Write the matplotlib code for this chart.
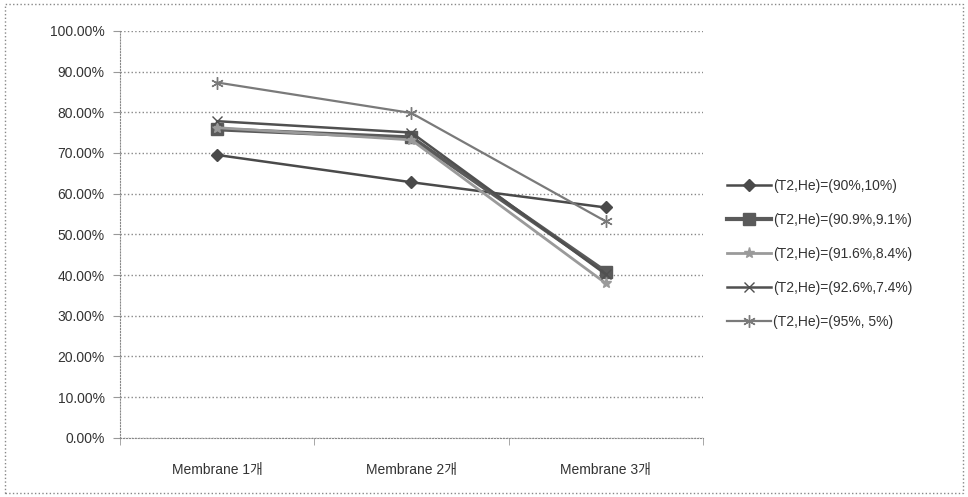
import matplotlib.pyplot as plt
import numpy as np
from matplotlib.ticker import PercentFormatter

plt.rcParams['font.family'] = ['Liberation Sans', 'Noto Sans CJK KR', 'DejaVu Sans']

categories = ["Membrane 1개", "Membrane 2개", "Membrane 3개"]
series_names = ["(T2,He)=(90%,10%)", "(T2,He)=(90.9%,9.1%)", "(T2,He)=(91.6%,8.4%)",
                "(T2,He)=(92.6%,7.4%)", "(T2,He)=(95%, 5%)"]
s_90 = [69.5, 62.8, 56.6]
s_909 = [75.8, 73.8, 40.8]
s_916 = [76.2, 73.2, 38.0]
s_926 = [77.8, 75.0, 40.2]
s_95 = [87.3, 79.8, 53.2]

values = [s_90, s_909, s_916, s_926, s_95]
colors = ["#4a4a4a", "#5a5a5a", "#9a9a9a", "#505050", "#7a7a7a"]
markers = ["D", "s", "*", "x", (6, 2, 0)]
msizes = [6, 8, 8, 7, 9]
lwidths = [1.8, 3.0, 2.0, 1.8, 1.6]

fig = plt.figure(figsize=(9.68, 4.97), dpi=100)
# dotted frame round the whole chart
fig.patches.append(plt.Rectangle((0.005, 0.008), 0.99, 0.984, transform=fig.transFigure,
                                 fill=False, edgecolor="#888888", linestyle=":", linewidth=1.0))
ax = fig.add_axes([0.124, 0.119, 0.602, 0.819])

x = np.arange(len(categories))
for vals, name, c, m, ms, lw in zip(values, series_names, colors, markers, msizes, lwidths):
    ax.plot(x, vals, color=c, marker=m, markersize=ms, linewidth=lw, label=name,
            markeredgecolor=c, markerfacecolor=c, zorder=3)

ax.set_xlim(-0.5, 2.5)
ax.set_ylim(0, 100)
ax.set_yticks(np.arange(0, 101, 10))
ax.yaxis.set_major_formatter(PercentFormatter(decimals=2))
ax.set_xticks(x)
ax.set_xticklabels(categories)
ax.set_xticks([-0.5, 0.5, 1.5, 2.5], minor=True)
ax.tick_params(axis='x', which='major', length=0, pad=18, labelsize=10, colors="#333333")
ax.tick_params(axis='x', which='minor', length=5, color="#999999")
ax.tick_params(axis='y', length=5, color="#999999", labelsize=10, colors="#333333", pad=6)

ax.grid(axis='y', linestyle=':', color="#888888", linewidth=1.0)
ax.set_axisbelow(True)
for side in ["top", "right"]:
    ax.spines[side].set_visible(False)
for side in ["left", "bottom"]:
    ax.spines[side].set_linestyle(":")
    ax.spines[side].set_color("#888888")

leg = ax.legend(loc="center left", bbox_to_anchor=(1.02, 0.452), frameon=False,
                fontsize=10, labelspacing=1.45, handlelength=3.2, handletextpad=0.1)
for t in leg.get_texts():
    t.set_color("#333333")

fig.savefig("out.png", dpi=100)
